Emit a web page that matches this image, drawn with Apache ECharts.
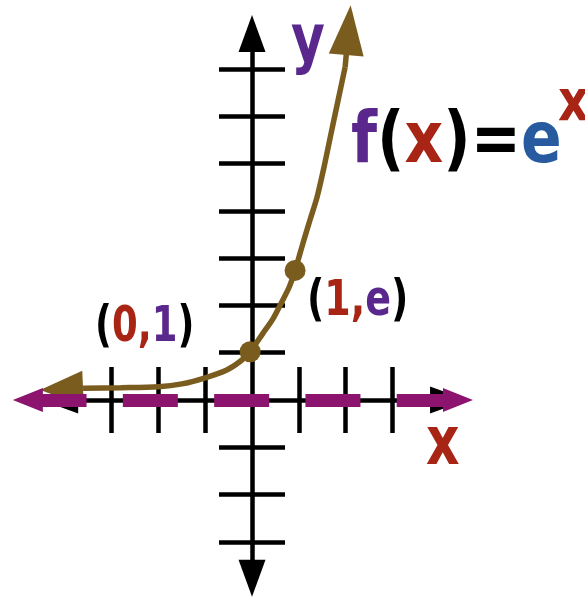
<!DOCTYPE html>
<html>
<head>
<meta charset="utf-8">
<script src="https://cdn.jsdelivr.net/npm/echarts@6/dist/echarts.min.js"></script>
<style>
  html, body { margin: 0; padding: 0; background: #fff; }
  #chart { width: 585px; height: 597px; }
</style>
</head>
<body>
<div id="chart"></div>
<script>
  // f(x) = e^x (x, y in axis units)
  var curveX = [-3.61, -2.8, -2.0, -1.5, -1.0, -0.55, -0.25, -0.04, 0.24, 0.45, 0.65, 0.8, 0.92, 1.09, 1.24, 1.39, 1.54, 1.69, 1.84, 1.99]
  var curveY = [0.25, 0.26, 0.28, 0.34, 0.47, 0.63, 0.82, 1.02, 1.42, 1.72, 2.1, 2.4, 2.74, 3.32, 3.81, 4.29, 4.93, 5.64, 6.34, 7.04]

  // marked points (0,1) and (1,e)
  var pointX = [-0.04, 0.92]
  var pointY = [1.02, 2.74]

  // arrow heads on the curve: [from, to]
  var headTop = [[1.99, 7.04], [2.06, 7.82]]
  var headLeft = [[-3.61, 0.25], [-4.07, 0.23]]

  // axes and the asymptote y = 0
  var xAxisEnds = [-4.11, 4.2]
  var yAxisEnds = [-3.77, 7.75]
  var asymptoteEnds = [-4.79, 4.4]
  var xTicks = [-3, -2, -1, 1, 2, 3]
  var yTicks = [-3, -2, -1, 1, 2, 3, 4, 5, 6, 7]

  var BLACK = '#000000'
  var BROWN = '#7a5c1e'
  var MAGENTA = '#8c146e'
  var PURPLE = '#5a288c'
  var RED = '#a82414'
  var BLUE = '#285aa0'
  var FONT = '"DejaVu Sans", sans-serif'

  var colorKeys = { k: BLACK, p: PURPLE, r: RED, b: BLUE }

  function richLabel(pieces, left, baseline, size, stretch) {
    var font = 'bold ' + size + 'px ' + FONT
    var rich = {}
    Object.keys(colorKeys).forEach(function (key) {
      rich[key] = { fill: colorKeys[key], font: font }
    })
    return {
      type: 'text',
      x: left,
      y: baseline,
      scaleY: stretch,
      z: 100,
      style: {
        text: pieces.map(function (p) { return '{' + p[1] + '|' + p[0] + '}' }).join(''),
        x: 0,
        y: -0.3 * size,
        font: font,
        align: 'left',
        verticalAlign: 'middle',
        textAlign: 'left',
        textVerticalAlign: 'middle',
        rich: rich
      }
    }
  }

  function valueAxis(position, min, max, ticks) {
    return {
      type: 'value',
      position: position,
      min: min,
      max: max,
      axisLine: { show: false, onZero: true, onZeroAxisIndex: 0 },
      axisTick: {
        show: true,
        customValues: ticks,
        length: 33,
        lineStyle: { color: BLACK, width: 4.5 }
      },
      axisLabel: { show: false },
      splitLine: { show: false }
    }
  }

  var chart = echarts.init(document.getElementById('chart'))

  chart.setOption({
    animation: false,
    backgroundColor: '#ffffff',
    grid: { left: 0, right: 0, top: 0, bottom: 0 },
    xAxis: [
      valueAxis('bottom', -5.385, 7.115, xTicks),
      valueAxis('top', -5.385, 7.115, xTicks)
    ],
    yAxis: [
      valueAxis('left', -4.165, 8.457, yTicks),
      valueAxis('right', -4.165, 8.457, yTicks)
    ],
    series: [
      {
        name: 'axes',
        type: 'lines',
        coordinateSystem: 'cartesian2d',
        z: 1,
        symbol: ['triangle', 'triangle'],
        symbolSize: [[27, 37], [27, 37]],
        lineStyle: { color: BLACK, width: 4.5, opacity: 1, curveness: 0 },
        data: [
          { coords: [[xAxisEnds[0], 0], [xAxisEnds[1], 0]] },
          { coords: [[0, yAxisEnds[0]], [0, yAxisEnds[1]]] }
        ]
      },
      {
        name: 'f(x)',
        type: 'line',
        z: 2,
        smooth: 0.3,
        showSymbol: false,
        clip: false,
        lineStyle: { color: BROWN, width: 5.5 },
        data: curveX.map(function (x, i) { return [x, curveY[i]] })
      },
      {
        name: 'heads',
        type: 'lines',
        coordinateSystem: 'cartesian2d',
        z: 2,
        symbol: ['none', 'triangle'],
        lineStyle: { color: BROWN, width: 5.5, opacity: 1, curveness: 0 },
        data: [
          { coords: headTop, symbolSize: [0, [35, 50]] },
          { coords: headLeft, symbolSize: [0, [35, 43]] }
        ]
      },
      {
        name: 'points',
        type: 'scatter',
        z: 3,
        symbolSize: 21,
        itemStyle: { color: BROWN, opacity: 1 },
        data: pointX.map(function (x, i) { return [x, pointY[i]] })
      },
      {
        name: 'asymptote',
        type: 'lines',
        coordinateSystem: 'cartesian2d',
        z: 4,
        symbol: ['triangle', 'triangle'],
        symbolSize: [[24, 30], [24, 30]],
        lineStyle: { color: MAGENTA, width: 13, opacity: 1, curveness: 0, type: [55, 36.3], dashOffset: 87.6 },
        data: [
          { coords: [[asymptoteEnds[0], 0], [asymptoteEnds[1], 0]] }
        ]
      }
    ],
    graphic: [
      richLabel([['f', 'p'], ['(', 'k'], ['x', 'r'], [')', 'k'], ['=', 'k'], ['e', 'b']], 351, 165, 60, 1.19),
      richLabel([['x', 'r']], 558, 122, 48, 1.19),
      richLabel([['(', 'k'], ['0', 'r'], [',', 'r'], ['1', 'p'], [')', 'k']], 95, 343, 37, 1.35),
      richLabel([['(', 'k'], ['1', 'r'], [',', 'r'], ['e', 'p'], [')', 'k']], 307, 317, 38, 1.33),
      richLabel([['y', 'p']], 291, 64, 52, 1.25),
      richLabel([['x', 'r']], 426, 467, 52, 1.3)
    ]
  })
</script>
</body>
</html>
